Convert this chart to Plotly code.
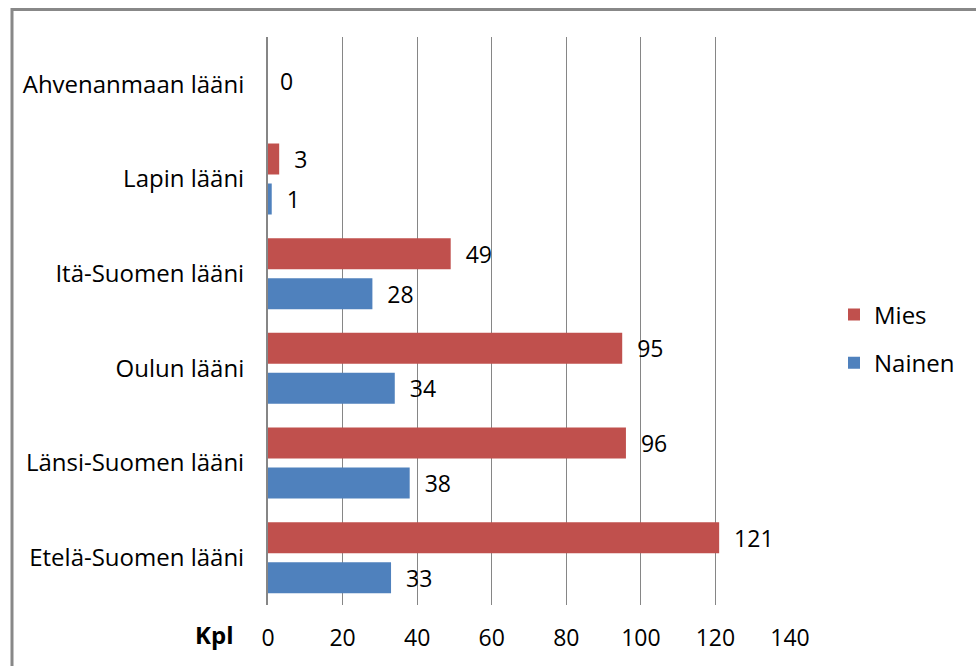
import plotly.graph_objects as go

# Läänit, alhaalta ylös
laanit = [
    "Etelä-Suomen lääni",
    "Länsi-Suomen lääni",
    "Oulun lääni",
    "Itä-Suomen lääni",
    "Lapin lääni",
    "Ahvenanmaan lääni",
]
mies = [121, 96, 95, 49, 3, None]
nainen = [33, 38, 34, 28, 1, None]
# Ahvenanmaalta vain yhteismäärä
ahvenanmaa_laani = "Ahvenanmaan lääni"
ahvenanmaa_arvo = 0

x_ticks = [0, 20, 40, 60, 80, 100, 120, 140]

FONT = "Open Sans"
FS = 23
FS_CAT = 24
RED = "#C0504D"
BLUE = "#4F81BD"
GRID = "#868686"
PAD = "\u00a0\u00a0"


def labels(vals):
    return [None if v is None else f"{PAD}{v}" for v in vals]


fig = go.Figure()
fig.add_trace(go.Bar(
    name="Nainen", y=laanit, x=nainen, orientation="h",
    marker=dict(color=BLUE, line=dict(width=0)),
    text=labels(nainen), textposition="outside", constraintext="none",
    textfont=dict(family=FONT, size=FS, color="#000000"),
    cliponaxis=False, legendgroup="n", legendrank=2,
))
fig.add_trace(go.Bar(
    name="Mies", y=laanit, x=mies, orientation="h",
    marker=dict(color=RED, line=dict(width=0)),
    text=labels(mies), textposition="outside", constraintext="none",
    textfont=dict(family=FONT, size=FS, color="#000000"),
    cliponaxis=False, legendgroup="m", legendrank=1,
))
fig.add_trace(go.Scatter(
    x=[ahvenanmaa_arvo], y=[ahvenanmaa_laani], mode="text",
    text=[f"{PAD}{ahvenanmaa_arvo}"], textposition="middle right",
    textfont=dict(family=FONT, size=FS, color="#000000"),
    showlegend=False, hoverinfo="skip", cliponaxis=False,
))

W, H = 976, 666
L, R, T, B = 268, 186, 37, 61
pw, ph = W - L - R, H - T - B


def px_x(px):
    return (px - L) / pw


def px_y(py):
    return (H - B - py) / ph


fig.update_layout(
    width=W, height=H,
    margin=dict(l=L, r=R, t=T, b=B, pad=0),
    paper_bgcolor="white", plot_bgcolor="white",
    barmode="group", bargap=0.155, bargroupgap=0.225,
    font=dict(family=FONT, size=FS, color="#000000"),
    showlegend=True,
    legend=dict(
        x=px_x(834), y=px_y(339), xanchor="left", yanchor="middle",
        traceorder="grouped", tracegroupgap=14,
        font=dict(family=FONT, size=FS_CAT, color="#000000"),
        bgcolor="rgba(0,0,0,0)", itemwidth=30,
    ),
    xaxis=dict(
        range=[0, 140], tickvals=x_ticks, showgrid=True,
        gridcolor=GRID, gridwidth=1.3, zeroline=False,
        showline=False, ticks="", ticklabelstandoff=17,
        tickfont=dict(family=FONT, size=FS),
        fixedrange=True,
    ),
    yaxis=dict(
        categoryorder="array", categoryarray=laanit,
        showgrid=False, zeroline=False,
        showline=True, linecolor=GRID, linewidth=2,
        ticks="", ticklabelstandoff=17,
        tickfont=dict(family=FONT, size=FS_CAT),
        fixedrange=True,
    ),
    annotations=[dict(
        text="<b>Kpl</b>", xref="paper", yref="paper",
        x=px_x(214), y=px_y(634), xanchor="center", yanchor="middle",
        showarrow=False, font=dict(family=FONT, size=FS_CAT, color="#000000"),
    )],
    shapes=[
        dict(type="line", xref="paper", yref="paper",
             x0=px_x(11), x1=px_x(W + 5), y0=px_y(9.5), y1=px_y(9.5),
             line=dict(color="#888888", width=3)),
        dict(type="line", xref="paper", yref="paper",
             x0=px_x(12), x1=px_x(12), y0=px_y(8), y1=px_y(H + 5),
             line=dict(color="#888888", width=3)),
    ],
)

fig.write_html("out.html", config={"displayModeBar": False})
